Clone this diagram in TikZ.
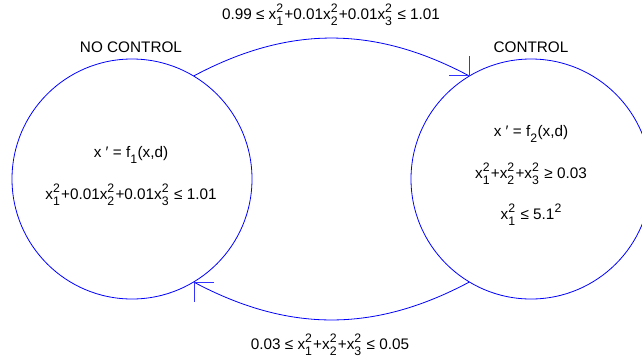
\documentclass[tikz,border=0pt]{standalone}
\usepackage{fontspec}
\setmainfont{Liberation Sans}
\newcommand\scr{\fontsize{12.3}{10}\selectfont}
\newcommand\xsq[1]{x\rlap{\raisebox{-0.42em}{\scr #1}}\raisebox{0.45em}{\scr 2}\hspace{1.2pt}}
\newcommand\fsb[1]{f\raisebox{-0.42em}{\scr #1}\hspace{0.5pt}}
\begin{document}
\begin{tikzpicture}[x=1pt,y=-1pt,
  state/.style={circle,draw=blue,line width=0.8pt,minimum size=240pt,inner sep=0pt},
  lbl/.style={font=\fontsize{15.3}{17}\selectfont,text=black,inner sep=0pt,align=center},
  conn/.style={draw=blue,line width=0.8pt},
  barb/.style={draw=blue!80,line width=0.8pt}]
\useasboundingbox (0,0) rectangle (642,360);
\clip (0,0) rectangle (642,360);
\node[state] (L) at (132,179) {};
\node[state] (R) at (531,179) {};
\node[lbl] (tL) at (131,47) {NO CONTROL};
\node[lbl] (tR) at (531,47) {CONTROL};
\node[lbl] (l1) at (131,155) {x ′ = \fsb{1}(x,d)};
\node[lbl] (l2) at (131,195) {\xsq{1}+0.01\xsq{2}+0.01\xsq{3} ≤ 1.01};
\node[lbl] (r1) at (531,134) {x ′ = \fsb{2}(x,d)};
\node[lbl] (r2) at (531,174) {\xsq{1}+\xsq{2}+\xsq{3} ≥ 0.03};
\node[lbl] (r3) at (531,215) {\xsq{1} ≤ 5.1\raisebox{0.45em}{\scr 2}};
\node[lbl] (top) at (331,15) {0.99 ≤ \xsq{1}+0.01\xsq{2}+0.01\xsq{3} ≤ 1.01};
\node[lbl] (bot) at (330,345) {0.03 ≤ \xsq{1}+\xsq{2}+\xsq{3} ≤ 0.05};
\coordinate (a1) at (L.59);
\coordinate (a2) at (R.121);
\coordinate (b1) at (R.-121);
\coordinate (b2) at (L.-59);
\draw[conn] (a1) to[bend left=28] (a2);
\draw[conn] (b1) to[bend left=28] (b2);
\draw[barb] (a2) -- ++(-20,0);
\draw[barb] (a2) -- ++(0,-20);
\draw[barb] (b2) -- ++(20,0);
\draw[barb] (b2) -- ++(0,20);
\end{tikzpicture}
\end{document}
